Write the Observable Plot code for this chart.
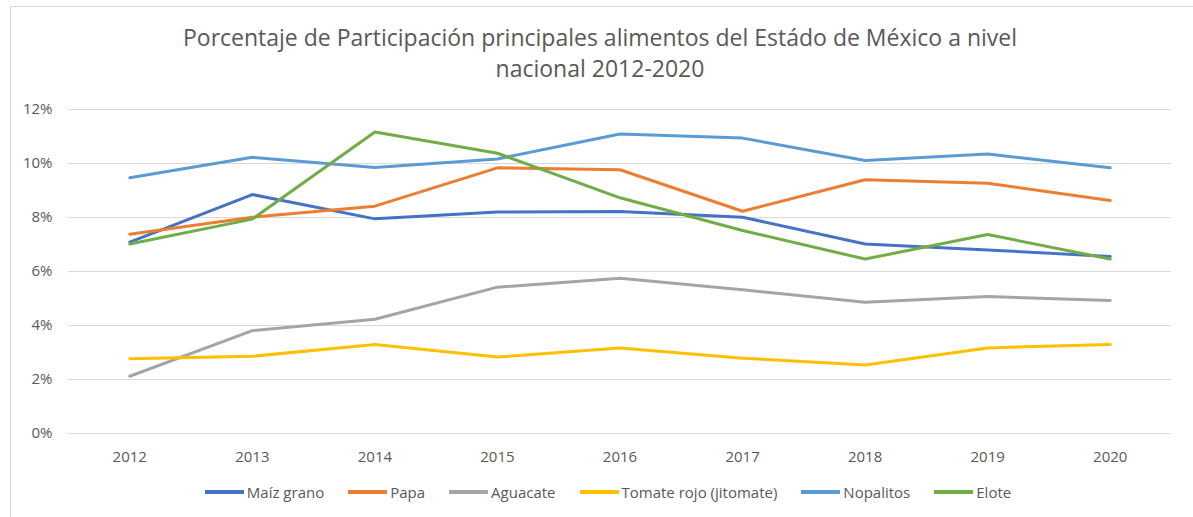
<!DOCTYPE html>
<html>
<head>
<meta charset="utf-8">
<script src="https://cdn.jsdelivr.net/npm/d3@7"></script>
<script src="https://cdn.jsdelivr.net/npm/@observablehq/plot@0.6"></script>
<style>
  html, body { margin: 0; padding: 0; background: #fff; overflow: hidden; }
  #wrap { position: relative; width: 1193px; height: 517px; font-family: "Open Sans", sans-serif; color: #595959; }
  #frame { position: absolute; left: 10px; top: 6px; width: 1300px; height: 700px; border: 1px solid #d9d9d9; box-sizing: border-box; }
  #title { position: absolute; left: 0; top: 22px; width: 1200px; text-align: center; font-size: 23px; line-height: 31px; color: #595959; }
  #chart { position: absolute; left: 0; top: 95px; }
  #legend { position: absolute; left: 0; top: 482px; width: 1216px; display: flex; justify-content: center; align-items: center; font-size: 15px; color: #595959; }
  .item { display: flex; align-items: center; margin: 0 12px; }
  .sw { width: 39px; height: 4px; margin-right: 3px; }
</style>
</head>
<body>
<div id="wrap">
  <div id="frame"></div>
  <div id="title">Porcentaje de Participación principales alimentos del Estádo de México a nivel<br>nacional 2012-2020</div>
  <div id="chart"></div>
  <div id="legend"></div>
</div>
<script>
const years = [2012, 2013, 2014, 2015, 2016, 2017, 2018, 2019, 2020];
const seriesNames = ["Maíz grano", "Papa", "Aguacate", "Tomate rojo (jitomate)", "Nopalitos", "Elote"];
const seriesColors = ["#4472C4", "#ED7D31", "#A5A5A5", "#FFC000", "#5B9BD5", "#70AD47"];
const maiz      = [7.09, 8.85, 7.95, 8.20, 8.22, 8.01, 7.02, 6.80, 6.56];
const papa      = [7.38, 8.01, 8.42, 9.84, 9.77, 8.23, 9.40, 9.27, 8.63];
const aguacate  = [2.12, 3.81, 4.23, 5.42, 5.75, 5.32, 4.86, 5.07, 4.93];
const tomate    = [2.77, 2.86, 3.30, 2.83, 3.17, 2.79, 2.54, 3.17, 3.30];
const nopalitos = [9.47, 10.23, 9.85, 10.17, 11.09, 10.94, 10.11, 10.35, 9.84];
const elote     = [7.02, 7.94, 11.17, 10.38, 8.73, 7.52, 6.46, 7.37, 6.46];
const yTicks = [0, 2, 4, 6, 8, 10, 12];

const seriesValues = [maiz, papa, aguacate, tomate, nopalitos, elote];
const data = [];
seriesNames.forEach((name, i) => {
  years.forEach((y, j) => data.push({ serie: name, year: String(y), value: seriesValues[i][j] }));
});

const chart = Plot.plot({
  width: 1193,
  height: 380,
  marginLeft: 68,
  marginRight: 22,
  marginTop: 14,
  marginBottom: 42,
  style: { fontFamily: "Open Sans, sans-serif", fontSize: "15px", color: "#595959", background: "transparent" },
  x: { type: "point", domain: years.map(String), padding: 0.5, round: false, label: null },
  y: { domain: [0, 12], label: null },
  color: { domain: seriesNames, range: seriesColors },
  marks: [
    Plot.gridY(yTicks, { stroke: "#d9d9d9", strokeOpacity: 1, strokeWidth: 1 }),
    Plot.axisY(yTicks, { tickSize: 0, tickPadding: 16, tickFormat: d => d + "%", fill: "#595959", fontSize: 15, label: null }),
    Plot.axisX({ tickSize: 0, tickPadding: 18, fill: "#595959", fontSize: 15, label: null }),
    Plot.line(data, { x: "year", y: "value", z: "serie", stroke: "serie", strokeWidth: 3, strokeLinejoin: "round", strokeLinecap: "round" })
  ]
});
document.getElementById("chart").appendChild(chart);

const legend = document.getElementById("legend");
seriesNames.forEach((name, i) => {
  const it = document.createElement("div");
  it.className = "item";
  const sw = document.createElement("div");
  sw.className = "sw";
  sw.style.background = seriesColors[i];
  const tx = document.createElement("span");
  tx.textContent = name;
  it.appendChild(sw);
  it.appendChild(tx);
  legend.appendChild(it);
});
</script>
</body>
</html>
